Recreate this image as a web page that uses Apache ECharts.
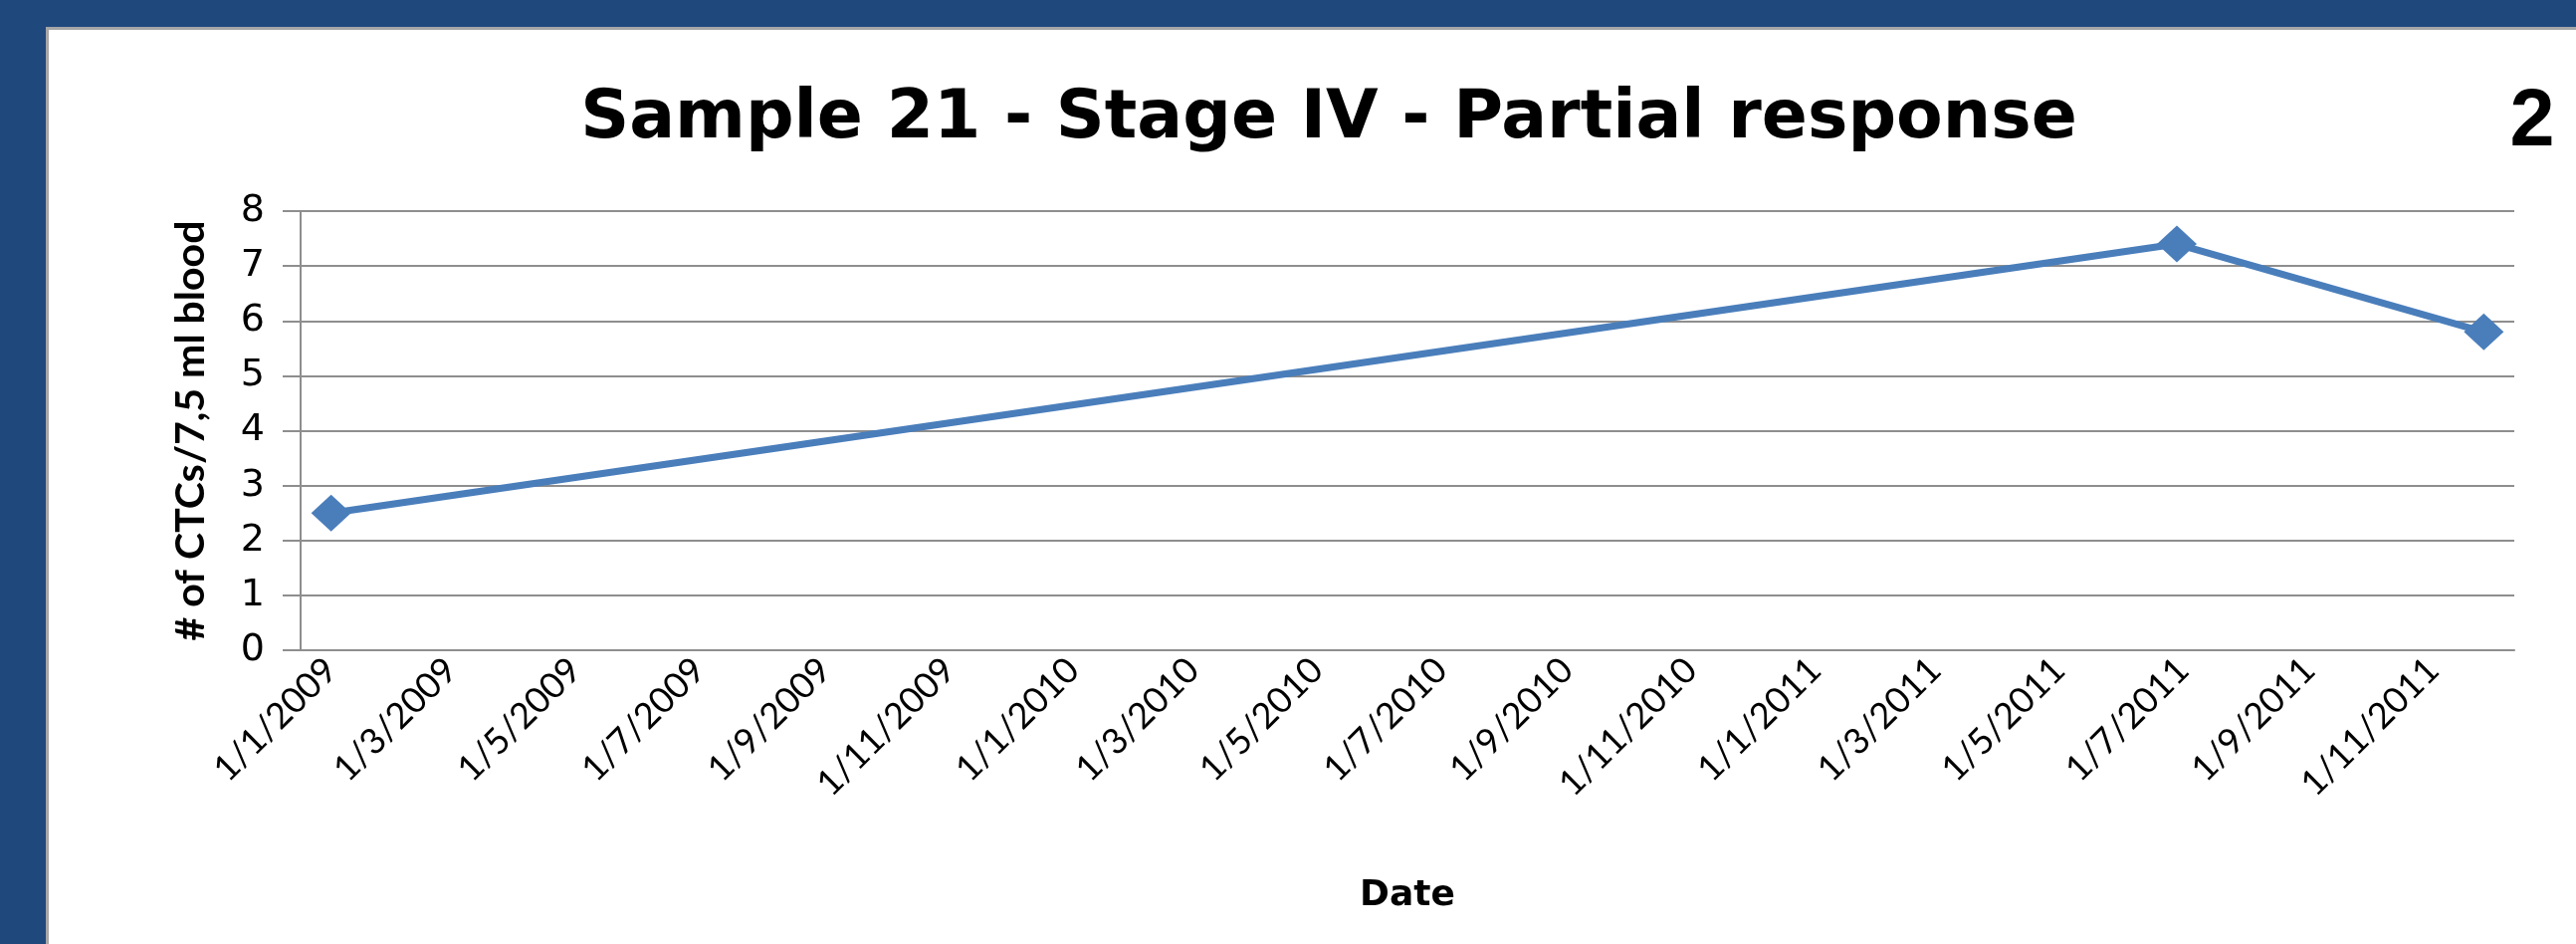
<!DOCTYPE html>
<html>
<head>
<meta charset="utf-8">
<title>Sample 21</title>
<script src="https://cdn.jsdelivr.net/npm/echarts@6/dist/echarts.min.js"></script>
<style>
  html, body { margin: 0; padding: 0; background: #fff; }
  #chart { width: 2588px; height: 948px; }
</style>
</head>
<body>
<div id="chart"></div>
<script>
// tick labels on the date axis (d/m/yyyy, every 2 months)
var tickDates = [
  '2009-01-01', '2009-03-01', '2009-05-01', '2009-07-01', '2009-09-01', '2009-11-01',
  '2010-01-01', '2010-03-01', '2010-05-01', '2010-07-01', '2010-09-01', '2010-11-01',
  '2011-01-01', '2011-03-01', '2011-05-01', '2011-07-01', '2011-09-01', '2011-11-01'
];
// sampling dates and CTC counts
var sampleDates = ['2009-01-01', '2011-06-28', '2011-11-26'];
var ctcCounts = [2.5, 7.4, 5.8];

var axisMin = '2008-12-17';
var axisMax = '2011-12-11';

var blue = '#1f497d';
var gridGray = '#8e8e8e';

// dates are kept as timestamps on a plain value axis
function toTime(s) {
  return +echarts.time.parse(s);
}

function fmtDate(v) {
  var d = new Date(v);
  return d.getDate() + '/' + (d.getMonth() + 1) + '/' + d.getFullYear();
}

var seriesData = sampleDates.map(function (d, i) {
  return [toTime(d), ctcCounts[i]];
});

var chart = echarts.init(document.getElementById('chart'));

var option = {
  animation: false,
  backgroundColor: '#fff',
  graphic: [
    // slide frame
    { type: 'rect', shape: { x: 0, y: 0, width: 2588, height: 27 }, style: { fill: blue }, silent: true },
    { type: 'rect', shape: { x: 0, y: 0, width: 46, height: 948 }, style: { fill: blue }, silent: true },
    { type: 'line', shape: { x1: 46, y1: 28.5, x2: 2588, y2: 28.5 }, style: { stroke: '#a6a6a6', lineWidth: 3 }, silent: true },
    { type: 'line', shape: { x1: 47.5, y1: 27, x2: 47.5, y2: 948 }, style: { stroke: '#a6a6a6', lineWidth: 3 }, silent: true },
    {
      type: 'text',
      style: {
        text: 'Sample 21 - Stage IV - Partial response',
        x: 1335, y: 120,
        align: 'center', verticalAlign: 'middle',
        font: 'bold 68px "DejaVu Sans"',
        fill: '#000'
      }
    },
    {
      type: 'text',
      style: {
        text: '2',
        x: 2544, y: 124,
        align: 'center', verticalAlign: 'middle',
        font: 'bold 81px "Liberation Sans"',
        fill: '#000'
      }
    }
  ],
  grid: {
    left: 302,
    right: 62,
    top: 212,
    bottom: 295
  },
  xAxis: {
    type: 'value',
    min: toTime(axisMin),
    max: toTime(axisMax),
    name: 'Date',
    nameLocation: 'middle',
    nameGap: 229,
    nameTextStyle: {
      fontFamily: 'DejaVu Sans',
      fontWeight: 'bold',
      fontSize: 36,
      color: '#000'
    },
    axisLine: { show: true, lineStyle: { color: gridGray, width: 2 } },
    axisTick: { show: false },
    splitLine: { show: false },
    axisLabel: {
      customValues: tickDates.map(toTime),
      formatter: fmtDate,
      rotate: 45,
      margin: 14,
      fontFamily: 'Lato',
      fontSize: 36,
      color: '#000'
    }
  },
  yAxis: {
    type: 'value',
    min: 0,
    max: 8,
    interval: 1,
    name: '# of CTCs/7,5 ml blood',
    nameLocation: 'middle',
    nameGap: 90,
    nameTextStyle: {
      fontFamily: 'Lato',
      fontWeight: 'bold',
      fontSize: 41,
      color: '#000'
    },
    axisLine: { show: true, lineStyle: { color: gridGray, width: 2 } },
    axisTick: { show: true, length: 18, lineStyle: { color: gridGray, width: 2 } },
    splitLine: { show: true, lineStyle: { color: gridGray, width: 2 } },
    axisLabel: {
      margin: 36,
      fontFamily: 'DejaVu Sans',
      fontSize: 38,
      color: '#000'
    }
  },
  series: [
    {
      type: 'line',
      data: seriesData,
      symbol: 'diamond',
      symbolSize: [40, 37],
      itemStyle: { color: '#4a7ebb' },
      lineStyle: { color: '#4a7ebb', width: 7 }
    }
  ]
};

chart.setOption(option);
</script>
</body>
</html>
